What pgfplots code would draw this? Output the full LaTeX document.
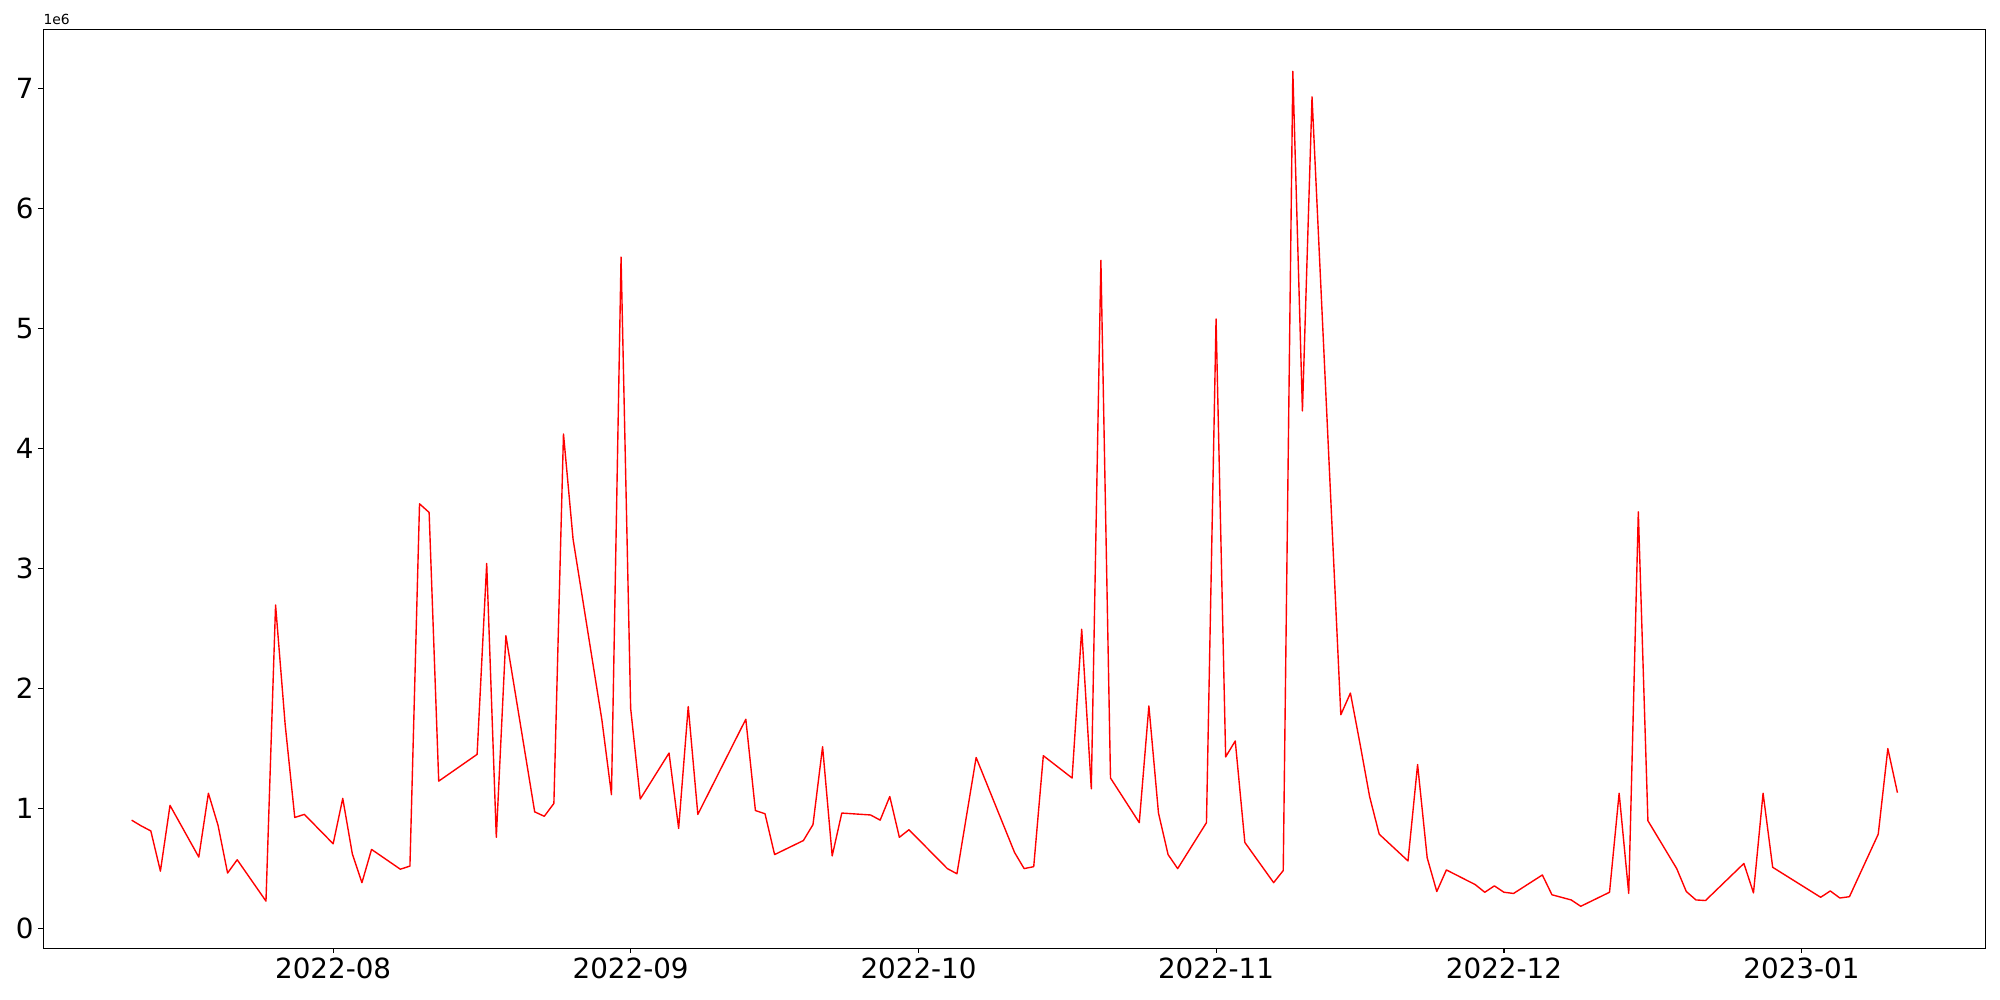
\documentclass[border=0pt]{standalone}
\usepackage{fontspec}
\setmainfont{DejaVu Sans}
\usepackage{pgfplots}
\pgfplotsset{compat=1.18}

% days counted from 2022-08-01, values in millions
\pgfplotstableread{
day val
-21 0.904
-20 0.856
-19 0.814
-18 0.479
-17 1.027
-14 0.596
-13 1.128
-12 0.862
-11 0.463
-10 0.574
-7 0.229
-6 2.697
-5 1.70
-4 0.926
-3 0.952
0 0.707
1 1.085
2 0.622
3 0.383
4 0.660
7 0.495
8 0.521
9 3.540
10 3.468
11 1.229
15 1.452
16 3.043
17 0.761
18 2.441
21 0.973
22 0.936
23 1.043
24 4.122
25 3.245
28 1.74
29 1.117
30 5.596
31 1.835
32 1.080
35 1.463
36 0.835
37 1.851
38 0.952
43 1.745
44 0.984
45 0.957
46 0.617
49 0.734
50 0.867
51 1.516
52 0.606
53 0.963
56 0.947
57 0.904
58 1.101
59 0.761
60 0.824
64 0.500
65 0.457
67 1.426
71 0.635
72 0.500
73 0.516
74 1.441
77 1.255
78 2.495
79 1.165
80 5.569
81 1.255
84 0.883
85 1.856
86 0.963
87 0.617
88 0.500
91 0.883
92 5.080
93 1.431
94 1.564
95 0.718
98 0.383
99 0.484
100 7.144
101 4.314
102 6.931
105 1.782
106 1.963
107 1.54
108 1.10
109 0.787
112 0.564
113 1.367
114 0.590
115 0.309
116 0.489
119 0.367
120 0.303
121 0.356
122 0.303
123 0.293
126 0.447
127 0.282
129 0.239
130 0.186
133 0.303
134 1.128
135 0.293
136 3.473
137 0.899
140 0.500
141 0.309
142 0.239
143 0.234
147 0.543
148 0.298
149 1.128
150 0.511
155 0.261
156 0.314
157 0.255
158 0.266
161 0.787
162 1.500
163 1.133
}\series

\begin{document}
\begin{tikzpicture}
\useasboundingbox (-31.2pt,-37.4pt) rectangle (1408.8pt,682.6pt);
\begin{axis}[
  name=ax,
  at={(0,0)}, anchor=south west,
  scale only axis,
  width=1398.5pt, height=661.3pt,
  xmin=-30.2, xmax=172.2,
  ymin=-0.162, ymax=7.492,
  xtick={0,31,61,92,122,153},
  xticklabels={2022-08,2022-09,2022-10,2022-11,2022-12,2023-01},
  ytick={0,1,2,3,4,5,6,7},
  scaled ticks=false,
  /pgf/number format/assume math mode=true,
  tick label style={font=\fontsize{20}{24}\selectfont},
  tick align=outside,
  major tick length=3.5pt,
  xtick pos=bottom, ytick pos=left,
  tick style={black, line width=0.8pt},
  axis line style={line width=0.8pt},
]
\addplot[red, line width=1pt, no marks, line join=round] table[x=day, y=val] {\series};
\end{axis}
\node[anchor=south west, inner sep=0pt, font=\fontsize{10}{12}\selectfont]
  at ([yshift=3pt]ax.north west) {1e6};
\end{tikzpicture}
\end{document}
